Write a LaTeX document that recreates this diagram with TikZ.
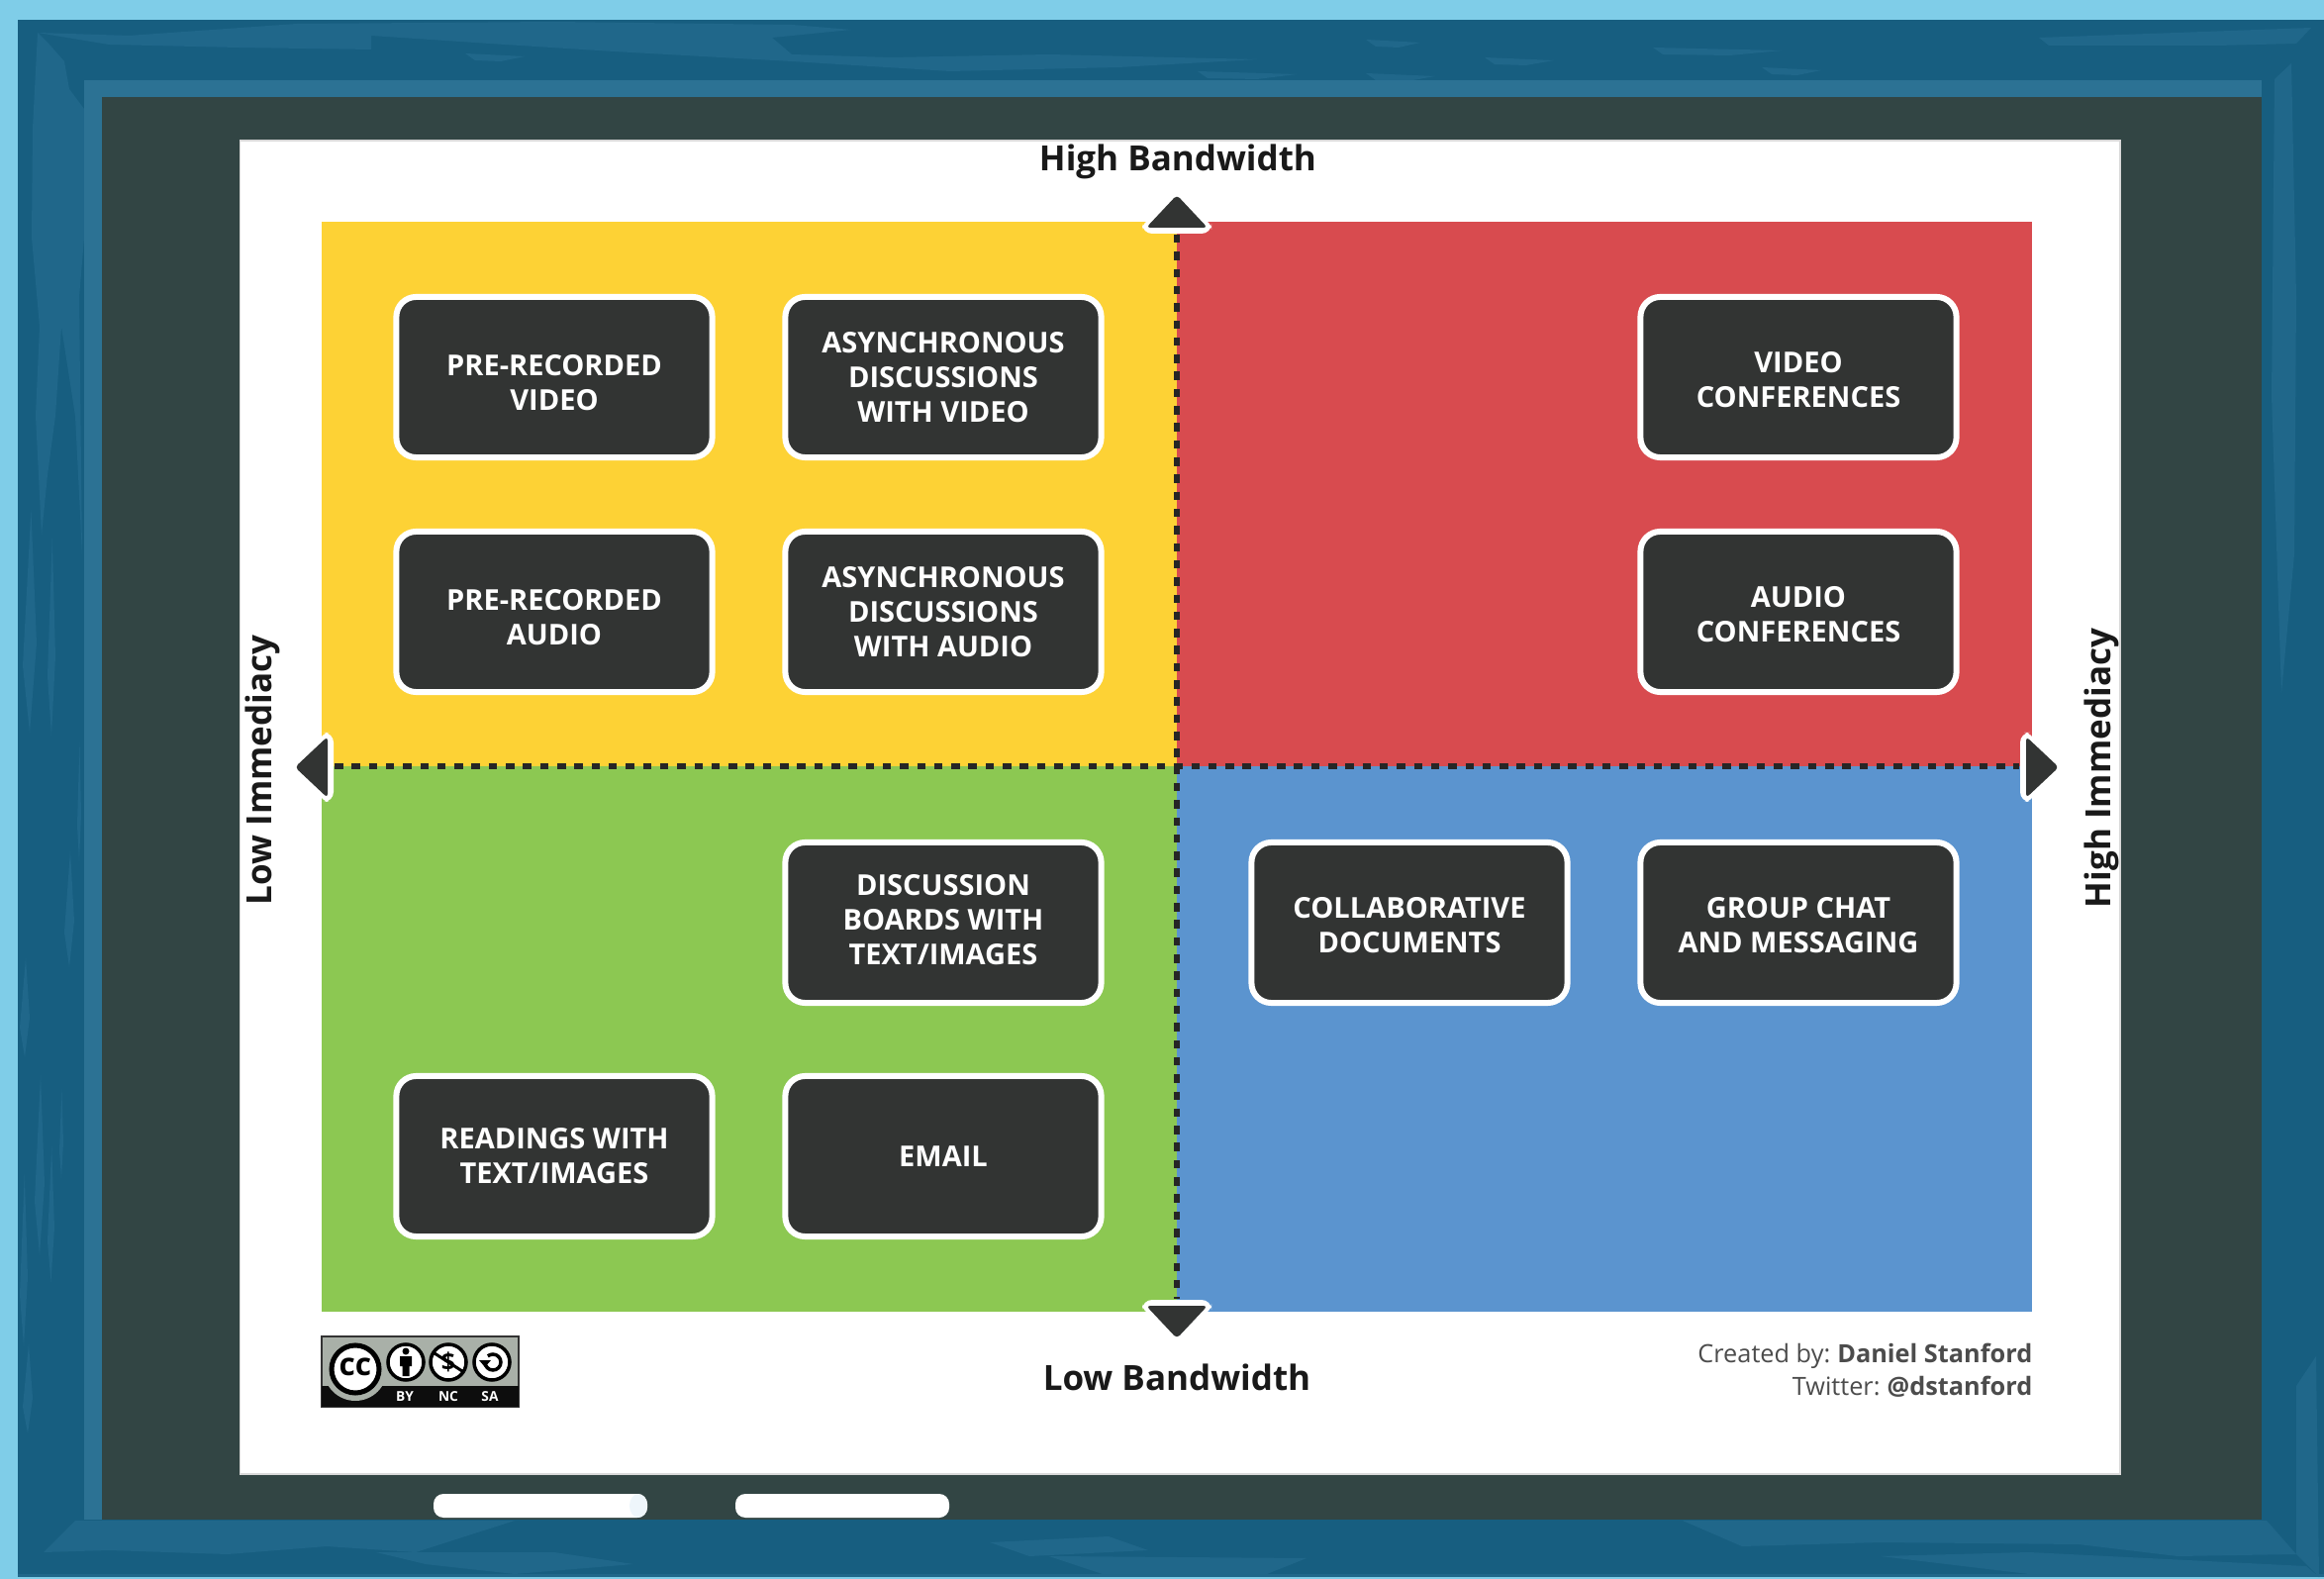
\documentclass[tikz,border=0pt]{standalone}
\usepackage{fontspec}
\setmainfont{Open Sans}
\definecolor{skyblue}{HTML}{7FCDE8}
\definecolor{framedark}{HTML}{175E80}
\definecolor{framemid}{HTML}{20678A}
\definecolor{framelight}{HTML}{2C7294}
\definecolor{boardgrey}{HTML}{324544}
\definecolor{darkbox}{HTML}{323433}
\definecolor{quadyellow}{HTML}{FDD235}
\definecolor{quadred}{HTML}{D84B4F}
\definecolor{quadgreen}{HTML}{8CC852}
\definecolor{quadblue}{HTML}{5B94CF}
\definecolor{badgegrey}{HTML}{A9B0A8}
\definecolor{chalkend}{HTML}{EEF6FB}
\tikzset{%
  every option/.style={
    draw=white,
    fill=darkbox,
    line width=0.06cm,
    rounded corners=0.2cm,
    minimum width=3.19cm,
    minimum height=1.62cm
  },
  option text/.style={
    text=white,
    inner sep=0pt,
    align=center,
    font=\bfseries\fontsize{8.25}{10}\selectfont
  },
  axis label/.style={
    text=black!90,
    font=\bfseries\fontsize{9.95}{12}\selectfont
  },
  credit line/.style={
    text=black!70,
    anchor=east,
    inner sep=0pt,
    font=\fontsize{7.2}{9}\selectfont
  },
  streak/.style={
    fill=framemid,
    draw=none
  },
  axis line/.style={
    draw=black!85,
    line width=0.06cm,
    dash pattern=on 0.085cm off 0.088cm
  },
  badge icon/.style={
    circle,
    draw=black,
    fill=white,
    line width=0.035cm,
    inner sep=0pt
  },
  badge text/.style={
    text=white,
    inner sep=0pt,
    font=\bfseries\fontsize{3.9}{4}\selectfont
  },
}

\begin{document}
\begin{tikzpicture}[x=0.01cm, y=-0.01cm]
\useasboundingbox (0,0) rectangle (2348,1595);

% frame and board
\fill [skyblue] (0,0) rectangle (2348,1595);
\fill [framedark] (18,20) rectangle (2348,1593);
% top of the frame
\fill [streak] (38,33) -- (130,36) -- (300,24) -- (560,22) -- (800,25) -- (860,30) -- (780,38) -- (800,55) -- (900,58) -- (1060,55) -- (1270,60) -- (1130,68) -- (960,72) -- (800,62) -- (620,52) -- (510,45) -- (375,36) -- (375,50) -- (240,48) -- (110,45) -- cycle;
\fill [streak] (2060,38) -- (2200,33) -- (2335,28) -- (2320,44) -- (2240,46) -- (2070,46) -- cycle;
\foreach \x/\y/\w in {1380/44/55, 1670/52/130, 1500/62/70, 1780/72/60, 470/58/60, 1210/76/100, 1380/78/70}
  \fill [streak] (\x,\y-4) -- (\x+\w,\y-1) -- (\x+\w*0.6,\y+4) -- (\x+10,\y+3) -- cycle;
% left of the frame
\fill [streak] (38,33) -- (50,45) -- (65,62) -- (70,90) -- (85,110) -- (85,240) -- (80,300) -- (83,560) -- (76,420) -- (62,330) -- (56,420) -- (48,480) -- (42,540) -- (36,420) -- (40,330) -- (32,240) -- (33,130) -- cycle;
\foreach \x/\y/\w/\h in {23/515/14/225, 48/543/8/200, 65/860/10/117, 78/750/4/120, 20/1186/8/174, 35/1086/10/182, 48/1158/7/137, 23/1358/10/90, 20/968/10/100, 60/1100/4/90}
  \fill [streak] (\x+\w*0.6,\y) -- (\x+\w,\y+\h*0.6) -- (\x+\w*0.5,\y+\h) -- (\x,\y+\h*0.7) -- cycle;
% right of the frame
\fill [streak] (2298,80) -- (2315,64) -- (2320,300) -- (2318,560) -- (2305,700) -- (2295,400) -- cycle;
\fill [streak] (2320,1400) -- (2340,1370) -- (2343,1593) -- (2320,1570) -- cycle;
% bottom of the frame
\fill [streak] (76,1536) -- (520,1536) -- (420,1568) -- (330,1562) -- (230,1570) -- (110,1566) -- (44,1568) -- cycle;
\fill [streak] (380,1568) -- (560,1568) -- (640,1580) -- (520,1590) -- (430,1580) -- cycle;
\fill [streak] (1700,1536) -- (2290,1536) -- (2320,1570) -- (2200,1572) -- (2100,1560) -- (1900,1558) -- (1760,1562) -- cycle;
\fill [streak] (1900,1572) -- (2050,1568) -- (2330,1582) -- (2343,1593) -- (2050,1590) -- cycle;
\fill [streak] (1000,1558) -- (1120,1552) -- (1160,1566) -- (1040,1572) -- cycle;
\fill [streak] (1060,1572) -- (1320,1574) -- (1280,1590) -- (1120,1592) -- cycle;
\fill [streak] (18,1590) -- (2348,1590) -- (2348,1593) -- (18,1593) -- cycle;
\fill [framelight] (85,81) rectangle (2285,98);
\fill [framelight] (85,81) rectangle (103,1535);
\fill [boardgrey] (103,98) rectangle (2285,1535);
\draw [draw=black!15, line width=0.015cm, fill=white] (242.5,142) rectangle (2142,1489);

% quadrants
\fill [quadyellow] (325,224) rectangle (1189,774);
\fill [quadred] (1189,224) rectangle (2053,774);
\fill [quadgreen] (325,774) rectangle (1189,1325);
\fill [quadblue] (1189,774) rectangle (2053,1325);

% axes
\coordinate (axis-top) at (1189,237);
\coordinate (axis-bottom) at (1189,1312);
\coordinate (axis-left) at (338,774.5);
\coordinate (axis-right) at (2040,774.5);
\draw [axis line] (axis-top) -- (axis-bottom);
\draw [axis line] (axis-left) -- (axis-right);
\foreach \a/\xx/\yy in {0/1189/224, 180/1189/1325, 90/325/775, -90/2053/775} {
  \begin{scope}[shift={(\xx,\yy)}, rotate=\a]
    \fill [white, rounded corners=0.1cm] (-35,-2) -- (35,-2) -- (35,12) -- (-35,12) -- cycle;
    \fill [darkbox, rounded corners=0.04cm] (0,-27) -- (31,6) -- (-31,6) -- cycle;
  \end{scope}
}

% option boxes
\foreach \x/\y/\d/\l [count=\i] in {
  560/381/6/{PRE-RECORDED\\VIDEO},
  953/381/0/{ASYNCHRONOUS\\DISCUSSIONS\\WITH VIDEO},
  1817/381/3/{VIDEO\\CONFERENCES},
  560/618/6/{PRE-RECORDED\\AUDIO},
  953/618/0/{ASYNCHRONOUS\\DISCUSSIONS\\WITH AUDIO},
  1817/618/3/{AUDIO\\CONFERENCES},
  953/932/-3/{DISCUSSION\\BOARDS WITH\\TEXT/IMAGES},
  1424/932/3/{COLLABORATIVE\\DOCUMENTS},
  1817/932/3/{GROUP CHAT\\AND MESSAGING},
  560/1168/0/{READINGS WITH\\TEXT/IMAGES},
  953/1168/0/{EMAIL}} {
  \node [every option] (option-\i) at (\x,\y) {};
  \node [option text] (option-text-\i) at (\x,\y+\d) {\l};
}

% axis labels
\node [axis label] (high-bandwidth) at (1190,163) {High Bandwidth};
\node [axis label] (low-bandwidth) at (1189,1391) {Low Bandwidth};
\node [axis label, rotate=90] (low-immediacy) at (265,778) {Low Immediacy};
\node [axis label, rotate=90] (high-immediacy) at (2123,776) {High Immediacy};

% credit
\node [credit line] (credit-1) at (2054,1370) {Created by:\hspace{-0.5pt} \textbf{Daniel Stanford}};
\node [credit line] (credit-2) at (2054,1401) {Twitter:\hspace{-0.5pt} \textbf{@dstanford}};

% licence badge
\fill [badgegrey, draw=black!80, line width=0.015cm] (325,1350) rectangle (524,1421);
\fill [black!95] (325,1400) rectangle (524,1421);
\fill [badgegrey] (359,1383) circle (32);
\node [badge icon, line width=0.05cm, minimum size=0.48cm,
  font=\bfseries\fontsize{9}{9}\selectfont] (badge-cc) at (359,1383) {\raisebox{1.2pt}{cc}};
\node [badge icon, minimum size=0.36cm] (badge-by) at (410,1376) {};
\node [badge icon, minimum size=0.36cm,
  font=\bfseries\fontsize{7}{7}\selectfont] (badge-nc) at (453,1376) {\$};
\node [badge icon, minimum size=0.36cm] (badge-sa) at (497,1376) {};
\fill [black] (410,1365) circle (3.5) (404,1370) rectangle (416,1380) (406.5,1380) rectangle (413.5,1390);
\draw [line width=0.03cm] (439,1367) -- (467,1385);
\draw [line width=0.035cm] (490,1376) arc (180:-130:8);
\fill [black] (484,1374) -- (496,1374) -- (490,1381) -- cycle;
\node [badge text] (badge-by-text) at (409,1411) {BY};
\node [badge text] (badge-nc-text) at (453,1411) {NC};
\node [badge text] (badge-sa-text) at (495,1411) {SA};

% chalk
\fill [white, rounded corners=0.1cm] (438,1509) rectangle (654,1533);
\fill [white, rounded corners=0.1cm] (743,1509) rectangle (959,1533);
\fill [chalkend] (645,1521) ellipse (9 and 12);
\end{tikzpicture}
\end{document}
